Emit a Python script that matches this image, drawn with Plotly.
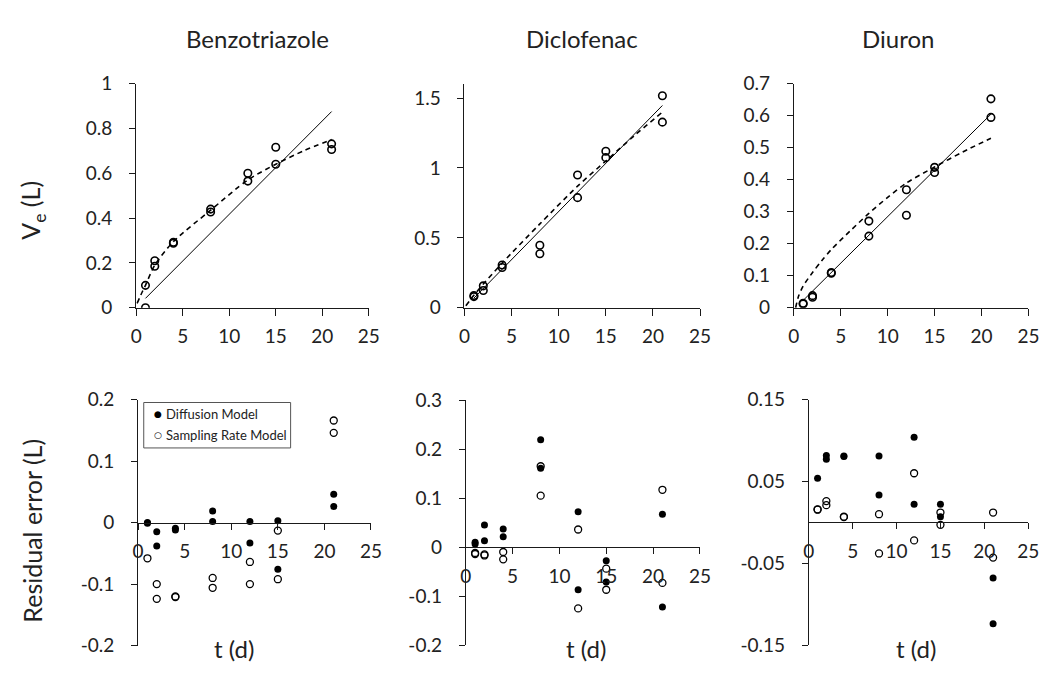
import plotly.graph_objects as go

W, H = 1051, 689

# ---------------- data ----------------
compounds = ["Benzotriazole", "Diclofenac", "Diuron"]
series_names = ["Diffusion Model", "Sampling Rate Model"]

# measured extracted volume Ve (L), two replicates per sampling time
benz_t = [1, 1, 2, 2, 4, 4, 8, 8, 12, 12, 15, 15, 21, 21]
benz_ve = [0.0, 0.10, 0.21, 0.185, 0.292, 0.288, 0.44, 0.427, 0.60, 0.565, 0.716, 0.64, 0.731, 0.706]
diclo_t = [1, 1, 2, 2, 4, 4, 8, 8, 12, 12, 15, 15, 21, 21]
diclo_ve = [0.088, 0.08, 0.157, 0.124, 0.306, 0.288, 0.447, 0.387, 0.95, 0.788, 1.12, 1.074, 1.517, 1.328]
diur_t = [1, 1, 2, 2, 4, 4, 8, 8, 12, 12, 15, 15, 21, 21]
diur_ve = [0.014, 0.012, 0.038, 0.033, 0.11, 0.108, 0.271, 0.224, 0.369, 0.289, 0.439, 0.423, 0.653, 0.595]

# sampling rate model (solid line)
srm_t = [1, 21]
benz_srm = [0.042, 0.875]
diclo_srm = [0.069, 1.447]
diur_srm = [0.023, 0.605]

# diffusion model (dashed curve)
benz_dm_t = [0.1, 0.7, 1, 2, 4, 8, 12, 15, 18, 21]
benz_dm = [0.02, 0.075, 0.10, 0.19, 0.295, 0.435, 0.57, 0.64, 0.70, 0.75]
diclo_dm_t = [0.15, 1, 2, 4, 8, 12, 15, 18, 21]
diclo_dm = [0.015, 0.09, 0.17, 0.32, 0.60, 0.87, 1.05, 1.23, 1.40]
diur_dm_t = [0.2, 0.5, 1, 2, 3, 4, 6, 8, 10, 12, 15, 18, 21]
diur_dm = [0.0, 0.035, 0.068, 0.11, 0.148, 0.182, 0.24, 0.295, 0.345, 0.39, 0.44, 0.487, 0.53]

# residual errors (L)
benz_res_dm_t = [1, 1, 2, 2, 4, 4, 8, 8, 12, 12, 15, 15, 21, 21]
benz_res_dm = [0.0, -0.001, -0.015, -0.038, -0.009, -0.012, 0.019, 0.002, 0.002, -0.033, 0.003, -0.076, 0.046, 0.026]
benz_res_srm_t = [1, 2, 2, 4, 4, 8, 8, 12, 12, 15, 15, 21, 21]
benz_res_srm = [-0.058, -0.10, -0.124, -0.121, -0.12, -0.09, -0.106, -0.064, -0.10, -0.013, -0.092, 0.166, 0.146]

diclo_res_dm_t = [1, 1, 2, 2, 4, 4, 8, 8, 12, 12, 15, 15, 21, 21]
diclo_res_dm = [0.0065, 0.01, 0.045, 0.013, 0.037, 0.021, 0.219, 0.161, 0.072, -0.087, -0.028, -0.071, 0.067, -0.122]
diclo_res_srm_t = [1, 1, 2, 2, 4, 4, 8, 8, 12, 12, 15, 15, 21, 21]
diclo_res_srm = [-0.012, -0.014, -0.017, -0.015, -0.01, -0.025, 0.165, 0.105, 0.036, -0.125, -0.044, -0.087, 0.117, -0.073]

diur_res_dm_t = [1, 2, 2, 4, 4, 8, 8, 12, 12, 15, 15, 21, 21]
diur_res_dm = [0.054, 0.0816, 0.077, 0.081, 0.0805, 0.081, 0.0335, 0.104, 0.022, 0.022, 0.007, -0.068, -0.124]
diur_res_srm_t = [1, 1, 2, 2, 4, 4, 8, 8, 12, 12, 15, 15, 21, 21]
diur_res_srm = [0.016, 0.0155, 0.026, 0.021, 0.007, 0.0065, 0.01, -0.038, 0.06, -0.022, 0.012, -0.003, 0.012, -0.043]

# tick labels
x_ticks = [0, 5, 10, 15, 20, 25]
ve_ticks = [[0, 0.2, 0.4, 0.6, 0.8, 1], [0, 0.5, 1, 1.5], [0, 0.1, 0.2, 0.3, 0.4, 0.5, 0.6, 0.7]]
res_ticks = [[-0.2, -0.1, 0, 0.1, 0.2], [-0.2, -0.1, 0, 0.1, 0.2, 0.3], [-0.15, -0.05, 0.05, 0.15]]
ve_ranges = [[0, 1], [0, 1.6], [0, 0.7]]
res_ranges = [[-0.2, 0.2], [-0.2, 0.3], [-0.15, 0.15]]


def fmt(v):
    return "%g" % v  # keeps ASCII hyphen for negatives


# ---------------- layout geometry (pixels) ----------------
top_x = [(132.3, 368.8), (466.0, 705.5), (800.7, 1039.3)]
top_y = [(306.0, 74.0), (306.0, 74.6), (306.0, 74.3)]
bot_x = [(134.3, 371.0), (467.3, 705.3), (816.0, 1039.0)]
bot_y = [(655.5, 401.0), (655.0, 401.5), (655.0, 401.0)]

fx = lambda p: p / W
fy = lambda p: 1 - p / H

FONT = "Lato, 'Open Sans', sans-serif"
TXT = "#222222"
AX = "#1a1a1a"

fig = go.Figure()

top_sets = [
    (benz_t, benz_ve, benz_srm, benz_dm_t, benz_dm),
    (diclo_t, diclo_ve, diclo_srm, diclo_dm_t, diclo_dm),
    (diur_t, diur_ve, diur_srm, diur_dm_t, diur_dm),
]
bot_sets = [
    (benz_res_dm_t, benz_res_dm, benz_res_srm_t, benz_res_srm),
    (diclo_res_dm_t, diclo_res_dm, diclo_res_srm_t, diclo_res_srm),
    (diur_res_dm_t, diur_res_dm, diur_res_srm_t, diur_res_srm),
]

tickfont = dict(family=FONT, size=19, color=TXT)
axis_common = dict(ticks="outside", tickwidth=1, tickcolor=AX, showline=True, linecolor=AX,
                   linewidth=1, showgrid=False, zeroline=False, tickfont=tickfont,
                   ticklabeloverflow="allow")

layout = {}
for i in range(3):
    # ---- top panels ----
    n = i + 1
    xa, ya = f"x{n}", f"y{n}"
    t, ve, srm, dmt, dm = top_sets[i]
    fig.add_trace(go.Scatter(x=srm_t, y=srm, mode="lines", xaxis=xa, yaxis=ya,
                             line=dict(color="black", width=1), showlegend=False))
    fig.add_trace(go.Scatter(x=dmt, y=dm, mode="lines", xaxis=xa, yaxis=ya,
                             line=dict(color="black", width=1.6, dash="5px,4px", shape="spline",
                                       smoothing=0.8),
                             showlegend=False))
    fig.add_trace(go.Scatter(x=t, y=ve, mode="markers", xaxis=xa, yaxis=ya,
                             marker=dict(symbol="circle-open", size=7.5, color="black",
                                         line=dict(width=1.6, color="black")),
                             showlegend=False))
    layout[f"xaxis{n}"] = dict(domain=[fx(top_x[i][0]), fx(top_x[i][1])], range=[0, 25],
                               anchor=ya, tickvals=x_ticks, ticktext=[fmt(v) for v in x_ticks],
                               ticklen=7, ticklabelstandoff=4, **axis_common)
    layout[f"yaxis{n}"] = dict(domain=[fy(top_y[i][0]), fy(top_y[i][1])], range=ve_ranges[i],
                               anchor=xa, tickvals=ve_ticks[i], ticktext=[fmt(v) for v in ve_ticks[i]],
                               ticklen=6, ticklabelstandoff=13, **axis_common)

    # ---- bottom panels ----
    m = i + 4
    xb, yb = f"x{m}", f"y{m}"
    dt, dr, st, sr = bot_sets[i]
    fig.add_trace(go.Scatter(x=dt, y=dr, mode="markers", xaxis=xb, yaxis=yb,
                             name=series_names[0], showlegend=False,
                             marker=dict(symbol="circle", size=7, color="black",
                                         line=dict(width=0))))
    fig.add_trace(go.Scatter(x=st, y=sr, mode="markers", xaxis=xb, yaxis=yb,
                             name=series_names[1], showlegend=False,
                             marker=dict(symbol="circle-open", size=7, color="black",
                                         line=dict(width=1.3, color="black"))))
    d0, d1 = fy(bot_y[i][0]), fy(bot_y[i][1])
    r0, r1 = res_ranges[i]
    pos = d0 + (0 - r0) / (r1 - r0) * (d1 - d0)
    layout[f"xaxis{m}"] = dict(domain=[fx(bot_x[i][0]), fx(bot_x[i][1])], range=[0, 25],
                               anchor="free", position=pos,
                               tickvals=x_ticks, ticktext=[fmt(v) for v in x_ticks],
                               ticklen=6, ticklabelstandoff=6, **axis_common)
    layout[f"yaxis{m}"] = dict(domain=[d0, d1], range=res_ranges[i], anchor=xb,
                               tickvals=res_ticks[i], ticktext=[fmt(v) for v in res_ticks[i]],
                               ticklen=6, ticklabelstandoff=13, **axis_common)

annotations = []
title_x = [256, 585, 907]
for i, name in enumerate(compounds):
    annotations.append(dict(text=name, x=fx(title_x[i]), y=fy(27), xref="paper", yref="paper",
                            showarrow=False, xanchor="center", yanchor="middle",
                            font=dict(family=FONT, size=24, color=TXT)))
tlab_x = [232, 590, 925]
for i in range(3):
    annotations.append(dict(text="t (d)", x=fx(tlab_x[i]), y=fy(658), xref="paper", yref="paper",
                            showarrow=False, xanchor="center", yanchor="middle",
                            font=dict(family=FONT, size=24, color=TXT)))
annotations.append(dict(text="V<sub>e</sub> (L)", x=fx(27), y=fy(205), xref="paper", yref="paper",
                        showarrow=False, textangle=-90, xanchor="center", yanchor="middle",
                        font=dict(family=FONT, size=25, color=TXT)))
annotations.append(dict(text="Residual error (L)", x=fx(27), y=fy(537), xref="paper", yref="paper",
                        showarrow=False, textangle=-90, xanchor="center", yanchor="middle",
                        font=dict(family=FONT, size=25, color=TXT)))

# legend (drawn as a framed box with real text)
leg_font = dict(family=FONT, size=13, color=TXT)
leg_rows = [416, 438]
leg_syms = ["\u25CF", "\u25CB"]
for k in range(2):
    annotations.append(dict(text=leg_syms[k], x=fx(154), y=fy(leg_rows[k]), xref="paper", yref="paper",
                            showarrow=False, xanchor="center", yanchor="middle",
                            font=dict(family="DejaVu Sans", size=9, color="black")))
    annotations.append(dict(text=series_names[k], x=fx(161), y=fy(leg_rows[k]), xref="paper",
                            yref="paper", showarrow=False, xanchor="left", yanchor="middle",
                            font=leg_font))
shapes = [dict(type="rect", xref="paper", yref="paper", x0=fx(140), x1=fx(289.3),
               y0=fy(451), y1=fy(404), line=dict(color="#555555", width=1), fillcolor="rgba(0,0,0,0)")]

fig.update_layout(
    width=W, height=H, margin=dict(l=0, r=0, t=0, b=0),
    paper_bgcolor="white", plot_bgcolor="white",
    annotations=annotations, shapes=shapes, showlegend=False,
    **layout,
)

fig.write_html("out.html", config={"displayModeBar": False},
               post_script="document.body.style.margin='0';document.body.style.overflow='hidden';")
